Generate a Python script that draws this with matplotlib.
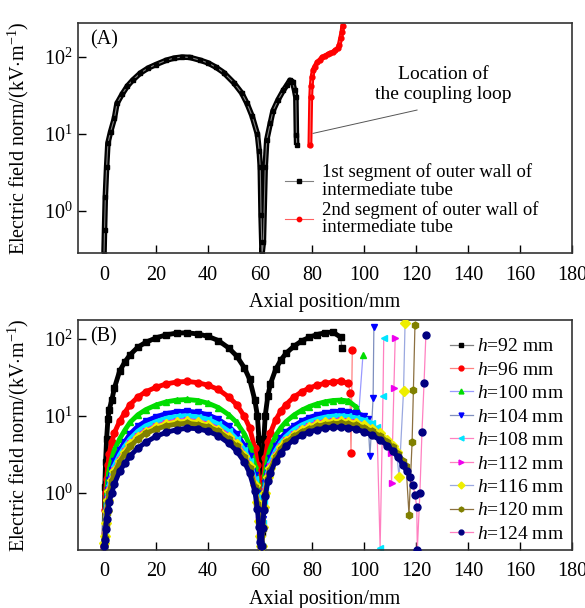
import numpy as np
import matplotlib
matplotlib.use("Agg")
import matplotlib.pyplot as plt

plt.rcParams['font.family'] = ['Liberation Serif', 'DejaVu Serif']
plt.rcParams['mathtext.fontset'] = 'custom'
plt.rcParams['mathtext.rm'] = 'Liberation Serif'
plt.rcParams['mathtext.it'] = 'Liberation Serif:italic'
plt.rcParams['font.size'] = 14

# ---- (A) 外壁两段 ----
xA1 = [0, 0.2, 0.5, 1, 1.5, 2.5, 4, 5, 7, 9, 11, 14, 17, 20, 24, 27, 30, 33, 37, 40,
       43, 46, 50, 53, 55, 57, 59, 59.7, 60.1, 60.4, 60.8, 61.3, 62, 62.6, 64, 65, 67,
       69, 70.5, 71.5, 72.5, 73.3, 73.8, 74, 74.1]
yA1 = [0.28, 0.57, 1.5, 3.7, 7.6, 10.6, 16, 25, 33, 42, 50, 62, 72, 80, 91, 97, 100, 99,
       91, 84, 74, 63, 46, 34, 25, 17, 10, 6, 3.7, 0.9, 0.28, 0.4, 3.7, 8.4, 14, 20, 28,
       37, 44, 50, 48, 37, 30, 9.7, 7.2]
xA2 = [79.2, 79.5, 79.7, 80, 80.5, 81, 82, 83, 84, 85, 86, 87, 88, 89, 90, 90.5, 91,
       91.5, 91.8]
yA2 = [7.2, 30, 42, 55, 68, 75, 85, 92, 100, 104, 108, 112, 116, 122, 132, 145, 175,
       210, 250]
labelsA = ["1st segment of outer wall of\nintermediate tube",
           "2nd segment of outer wall of\nintermediate tube"]

# ---- (B) 不同 h ----
h_list = [92, 96, 100, 104, 108, 112, 116, 120, 124]
colors = ['black', 'red', '#00dd00', '#0000ff', '#00e5ff', '#ee00ee', '#eeee00',
          '#808000', '#000080']
line_colors = ['#808080', '#ff8080', '#9999ff', '#7f8fbf', '#ff80c0', '#ff80c0',
               '#9aa8e0', '#8c7040', '#ff80c0']
markers = ['s', 'o', '^', 'v', '<', '>', 'D', 'h', 'o']

# 第一段拱形，共用的横坐标
xB1 = [0, 0.3, 0.6, 1, 1.5, 2, 3, 4, 6, 8, 10, 13, 16, 20, 24, 28, 32, 36, 40, 44, 48,
       51, 54, 56, 58, 59, 59.6, 60, 60.4]
yB1 = [
    [0.2, 1.2, 2.5, 5, 9, 12, 16, 23, 38, 50, 62, 78, 90, 103, 113, 119, 120, 116, 108,
     95, 76, 60, 42, 30, 16, 10, 5, 2.5, 0.5],
    [0.2, 0.6, 1.0, 1.5, 2.3, 3.2, 4.6, 6, 8.5, 11, 14, 17.5, 20.5, 23.5, 26, 27.5, 28,
     27, 25, 22, 17.5, 14, 9.8, 7, 3.8, 2.3, 1.2, 0.6, 0.2],
    [0.2, 0.45, 0.7, 1.0, 1.5, 2.0, 2.8, 3.6, 5.0, 6.5, 8.2, 10.3, 12, 13.8, 15.2, 16,
     16.3, 15.8, 14.6, 12.8, 10.3, 8.2, 5.8, 4.2, 2.3, 1.4, 0.8, 0.45, 0.2],
    [0.2, 0.35, 0.55, 0.8, 1.1, 1.45, 2.0, 2.6, 3.6, 4.6, 5.8, 7.3, 8.5, 9.7, 10.7, 11.3,
     11.5, 11.1, 10.3, 9.0, 7.3, 5.8, 4.1, 3.0, 1.7, 1.0, 0.6, 0.35, 0.2],
    [0.2, 0.3, 0.48, 0.7, 0.95, 1.25, 1.75, 2.25, 3.1, 4.0, 5.0, 6.3, 7.4, 8.4, 9.3, 9.8,
     10, 9.7, 9.0, 7.8, 6.3, 5.0, 3.6, 2.6, 1.5, 0.9, 0.5, 0.3, 0.2],
    [0.2, 0.28, 0.42, 0.6, 0.83, 1.1, 1.5, 1.95, 2.7, 3.5, 4.4, 5.5, 6.4, 7.3, 8.1, 8.5,
     8.7, 8.4, 7.8, 6.8, 5.5, 4.4, 3.1, 2.3, 1.3, 0.78, 0.45, 0.28, 0.2],
    [0.22, 0.27, 0.4, 0.58, 0.8, 1.05, 1.45, 1.9, 2.6, 3.4, 4.3, 5.3, 6.2, 7.1, 7.9, 8.3,
     8.5, 8.2, 7.6, 6.6, 5.3, 4.3, 3.0, 2.2, 1.25, 0.75, 0.43, 0.27, 0.2],
    [0.2, 0.26, 0.38, 0.55, 0.76, 1.0, 1.4, 1.8, 2.5, 3.2, 4.0, 5.0, 5.9, 6.7, 7.4, 7.8,
     8.0, 7.7, 7.2, 6.3, 5.0, 4.0, 2.9, 2.1, 1.2, 0.72, 0.42, 0.26, 0.2],
    [0.2, 0.24, 0.34, 0.45, 0.6, 0.75, 1.0, 1.3, 1.9, 2.4, 3.0, 3.8, 4.5, 5.4, 6.1, 6.6,
     6.9, 6.8, 6.3, 5.5, 4.4, 3.5, 2.5, 1.8, 1.05, 0.62, 0.36, 0.23, 0.2],
]

# 第二段拱形，共用的横坐标（各曲线取前若干个）
xB2 = [60.6, 61, 61.5, 62, 63, 64, 66, 68, 70, 73, 76, 79, 82, 85, 88, 91, 94, 97, 100,
       103, 106, 109, 111, 113, 115, 116.5]
yB2 = [
    [0.3, 2, 5, 10, 18, 26, 40, 53, 65, 80, 94, 105, 114, 120, 123, 105],
    [0.2, 0.8, 1.6, 2.8, 4.5, 6, 8.8, 11.5, 14, 17.5, 20.5, 23, 25, 26.5, 27.5, 28, 26.5],
    [0.2, 0.6, 1.1, 1.8, 2.9, 3.8, 5.5, 7.0, 8.4, 10.2, 11.8, 13.2, 14.3, 15.2, 15.8,
     16.0, 15.6, 13],
    [0.2, 0.45, 0.85, 1.35, 2.1, 2.8, 4.0, 5.1, 6.1, 7.4, 8.5, 9.5, 10.3, 10.9, 11.3,
     11.5, 11.3, 10.8, 10.0],
    [0.2, 0.4, 0.75, 1.2, 1.85, 2.5, 3.5, 4.5, 5.4, 6.6, 7.6, 8.4, 9.1, 9.6, 9.9, 10.0,
     9.8, 9.4, 8.8, 8.0],
    [0.2, 0.37, 0.68, 1.05, 1.65, 2.2, 3.1, 4.0, 4.8, 5.8, 6.7, 7.4, 8.0, 8.4, 8.6, 8.7,
     8.5, 8.2, 7.6, 6.9, 6.0],
    [0.2, 0.36, 0.65, 1.0, 1.6, 2.1, 3.0, 3.9, 4.7, 5.7, 6.5, 7.2, 7.8, 8.2, 8.4, 8.5,
     8.3, 8.0, 7.5, 6.8, 5.9, 4.9, 4.1],
    [0.2, 0.34, 0.62, 0.95, 1.5, 2.0, 2.9, 3.7, 4.5, 5.4, 6.2, 6.8, 7.3, 7.7, 7.9, 8.0,
     7.8, 7.5, 7.0, 6.3, 5.5, 4.6, 3.9, 3.2, 2.6],
    [0.2, 0.35, 0.6, 0.9, 1.4, 1.8, 2.6, 3.3, 4.0, 4.9, 5.6, 6.2, 6.6, 6.9, 7.1, 7.1, 7.0,
     6.7, 6.2, 5.6, 4.9, 4.1, 3.5, 2.9, 2.3, 1.9],
]

# 耦合环附近的尾部点
tail_x = [
    [91.5],
    [94.6, 95.0, 95.5],
    [98, 99.6],
    [101.5, 102.3, 103.5, 103.8],
    [105, 106.2, 107.3, 107.6],
    [108.5, 110.4, 110.6, 111.5, 112],
    [112.5, 113.5, 115.2, 115.8],
    [116.2, 117.3, 118.5, 119, 119.6],
    [117.7, 118.8, 119.6, 120.3, 120.5, 121.5, 122.3, 123.1, 123.8],
]
tail_y = [
    [76],
    [20, 3.3, 72],
    [11, 62],
    [9, 3.0, 17, 143],
    [7.2, 0.19, 18, 103],
    [5.0, 3.3, 1.35, 23, 103],
    [3.4, 1.6, 21, 163],
    [2.2, 0.52, 4.6, 21.7, 152],
    [1.6, 1.27, 0.94, 0.66, 0.18, 1.0, 6.2, 27, 113],
]


def style_axes(ax, ylim):
    ax.set_yscale('log')
    ax.set_xlim(-10, 180)
    ax.set_ylim(*ylim)
    ax.set_xticks(np.arange(0, 181, 20))
    ax.set_yticks([1, 10, 100])
    ax.yaxis.set_minor_locator(matplotlib.ticker.NullLocator())
    ax.tick_params(direction='in', length=6, width=1, labelsize=14.5)
    ax.tick_params(axis='x', pad=9)
    ax.tick_params(axis='y', pad=4)
    for s in ax.spines.values():
        s.set_linewidth(1.2)
        s.set_color('#333333')
    ax.set_xlabel("Axial position/mm", fontsize=14.5, labelpad=6)
    ax.set_ylabel(r"Electric field norm/(kV$\cdot$m$^{-1}$)", fontsize=14.5)
    ax.yaxis.set_label_coords(-0.095, 0.5)


fig = plt.figure(figsize=(5.85, 6.08), dpi=100)
axA = fig.add_axes([78 / 585, 1 - 253 / 608, 494 / 585, 230 / 608])
axB = fig.add_axes([78 / 585, 1 - 550 / 608, 494 / 585, 230 / 608])

# 图(A)
axA.plot(xA1, yA1, color='#808080', lw=0.8, marker='s', ms=3.5, mfc='black', mec='black',
         label=labelsA[0])
axA.plot(xA1, yA1, color='black', lw=4, solid_capstyle='butt', zorder=1)
axA.plot(xA2, yA2, color='#ff6060', lw=0.8, marker='o', ms=3.5, mfc='red', mec='red',
         label=labelsA[1])
axA.plot(xA2, yA2, color='red', lw=3.5, zorder=1)
axA.plot([120.4, 80.4], [20.5, 10.2], color='#555555', lw=0.7)
axA.text(130.4, 44, "Location of\nthe coupling loop", ha='center', va='center',
         fontsize=14, linespacing=1.3)
axA.text(0.024, 0.925, "(A)", transform=axA.transAxes, fontsize=14.5, va='center')
style_axes(axA, (0.285, 277))
legA = axA.legend(loc='upper left', bbox_to_anchor=(0.40, 0.43), frameon=False,
                  handlelength=1.5, handletextpad=0.45, labelspacing=0.1, borderpad=0,
                  markerscale=0.9, prop={'size': 13.5})
for t in legA.get_texts():
    t.set_linespacing(1.05)

# 图(B)
for i, h in enumerate(h_list):
    n = len(yB2[i])
    xs = xB1 + xB2[:n] + tail_x[i]
    ys = yB1[i] + yB2[i] + tail_y[i]
    axB.plot(xs, ys, color=line_colors[i], lw=0.9, marker=markers[i], ms=5,
             mfc=colors[i], mec=colors[i], label=r"$h$=%d mm" % h, zorder=2 + i * 0.1)
    axB.plot(xB1, yB1[i], color=colors[i], lw=3.5, zorder=2 + i * 0.1)
    axB.plot(xB2[:n], yB2[i], color=colors[i], lw=3.5, zorder=2 + i * 0.1)
axB.text(0.024, 0.925, "(B)", transform=axB.transAxes, fontsize=14.5, va='center')
style_axes(axB, (0.18, 176))
axB.legend(loc='upper left', bbox_to_anchor=(0.733, 0.965), frameon=False,
           handlelength=1.2, handletextpad=0.2, labelspacing=0.3, borderpad=0,
           markerscale=0.7, prop={'size': 14})

fig.savefig("out.png", dpi=100)
